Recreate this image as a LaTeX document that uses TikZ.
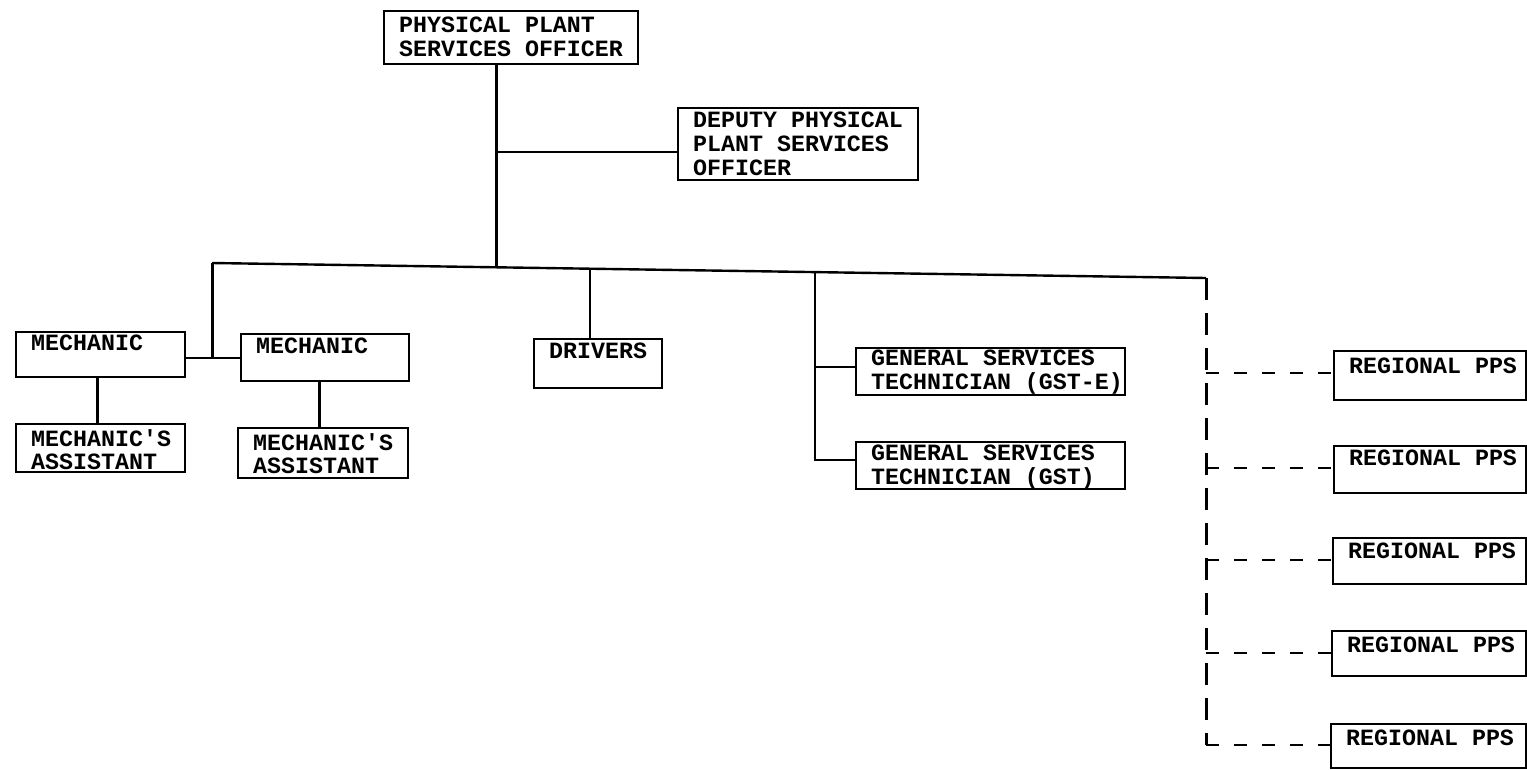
\documentclass[tikz,border=0pt]{standalone}
\usepackage{fontspec}
\newfontfamily\tw{Liberation Mono}
\usetikzlibrary{calc}
\newcommand\orgbox[7]{%
  \node[box, minimum width=#4pt, minimum height=#5pt] (#1) at (#2,#3) {};
  \node[txt] (#1t) at ($(#1.north west)+(16,#6)$) {#7};}
\begin{document}
\begin{tikzpicture}[x=1pt,y=-1pt,
  box/.style={draw, line width=2pt, rectangle, inner sep=0pt, anchor=north west},
  txt/.style={inner sep=0pt, anchor=north west, align=left,
    font=\tw\bfseries\fontsize{23.3}{23.8}\selectfont},
  conn/.style={line width=2.4pt},
  dconn/.style={line width=2.2pt, dash pattern=on 13pt off 15pt},
  vdconn/.style={line width=3pt, dash pattern=on 22pt off 13pt}]
\useasboundingbox[fill=white] (0,0) rectangle (1527,769);

\orgbox{top}{383}{10}{254}{53}{7}{PHYSICAL PLANT\\SERVICES OFFICER}
\orgbox{dep}{677}{107}{240}{72}{5}{DEPUTY PHYSICAL\\PLANT SERVICES\\OFFICER}
\orgbox{m1}{15}{331}{169}{45}{4}{MECHANIC}
\orgbox{m2}{240}{333}{168}{47}{5}{MECHANIC}
\orgbox{a1}{15}{423}{169}{48}{6}{MECHANIC\textquotesingle S\\ASSISTANT}
\orgbox{a2}{237}{427}{170}{50}{6}{MECHANIC\textquotesingle S\\ASSISTANT}
\orgbox{drv}{533}{338}{128}{49}{5}{DRIVERS}
\orgbox{gste}{855}{347}{269}{47}{3}{GENERAL SERVICES\\TECHNICIAN (GST-E)}
\orgbox{gst}{855}{441}{269}{47}{4}{GENERAL SERVICES\\TECHNICIAN (GST)}
\orgbox{r1}{1333}{350}{192}{49}{8}{REGIONAL PPS}
\orgbox{r2}{1333}{445}{192}{47}{5}{REGIONAL PPS}
\orgbox{r3}{1332}{537}{193}{46}{6}{REGIONAL PPS}
\orgbox{r4}{1331}{630}{194}{45}{7}{REGIONAL PPS}
\orgbox{r5}{1330}{723}{195}{44}{7}{REGIONAL PPS}

% bus
\coordinate (busL) at (212,263);
\coordinate (busR) at (1206,278);
\draw[conn] (busL) -- (busR);
% top to bus
\coordinate (tj) at (496,267.3);
\draw[conn, line width=3pt] (top.south -| tj) -- (tj);
% deputy
\coordinate (dj) at (496,152);
\draw[conn, line width=2pt] (dj) -- (dj -| dep.west);
% mechanics
\coordinate (mj) at (212,358);
\draw[conn, line width=3pt] (busL) -- (mj);
\draw[conn] (mj -| m1.east) -- (mj -| m2.west);
\coordinate (a1j) at (97,400);
\coordinate (a2j) at (319,400);
\draw[conn, line width=3pt] (m1.south -| a1j) -- (a1.north -| a1j);
\draw[conn, line width=3pt] (m2.south -| a2j) -- (a2.north -| a2j);
% drivers
\coordinate (dv) at (590,268.7);
\draw[conn] (dv) -- (dv |- drv.north);
% general services
\coordinate (gv) at (815,272.1);
\coordinate (gb) at (815,460);
\coordinate (ge) at (815,367);
\draw[conn] (gv) -- (gb) -- (gb -| gst.west);
\draw[conn] (ge) -- (ge -| gste.west);
% regional
\coordinate (rb) at (1206,745);
\draw[vdconn] (busR) -- (rb);
\coordinate (rj1) at (1206,373);
\coordinate (rj2) at (1206,468);
\coordinate (rj3) at (1206,560);
\coordinate (rj4) at (1206,653);
\coordinate (rj5) at (1206,745);
\draw[dconn] (rj1) -- (rj1 -| r1.west);
\draw[dconn] (rj2) -- (rj2 -| r2.west);
\draw[dconn] (rj3) -- (rj3 -| r3.west);
\draw[dconn] (rj4) -- (rj4 -| r4.west);
\draw[dconn] (rj5) -- (rj5 -| r5.west);
\end{tikzpicture}
\end{document}
